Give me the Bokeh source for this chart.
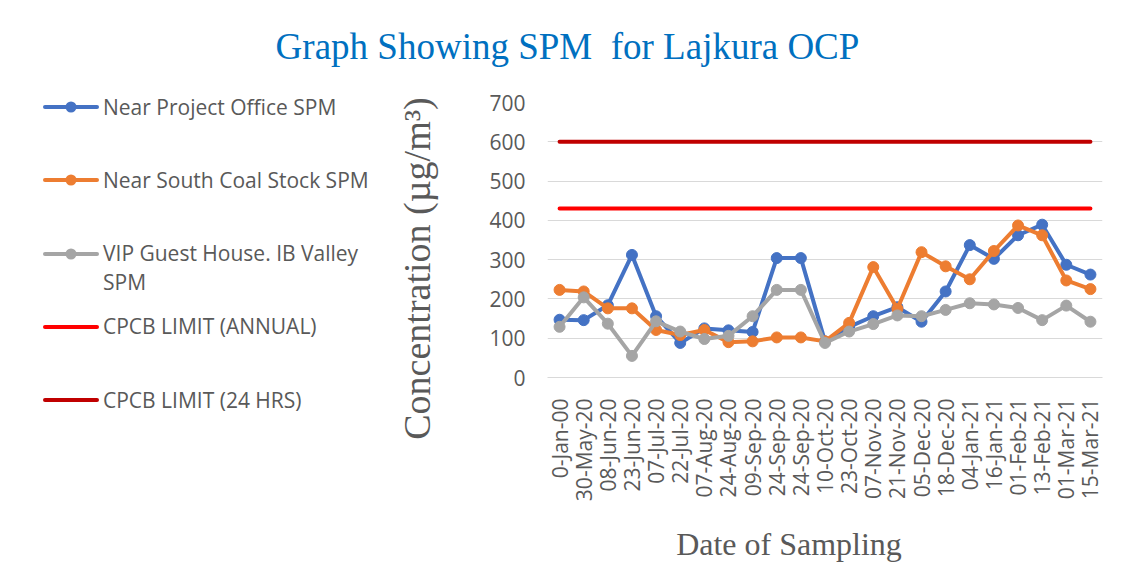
import math
from bokeh.plotting import figure
from bokeh.layouts import column, row
from bokeh.models import FixedTicker, Range1d, Label, Div
from bokeh.embed import file_html
from bokeh.resources import INLINE

# ---- data ----
dates = ["0-Jan-00", "30-May-20", "08-Jun-20", "23-Jun-20", "07-Jul-20", "22-Jul-20",
         "07-Aug-20", "24-Aug-20", "09-Sep-20", "24-Sep-20", "24-Sep-20", "10-Oct-20",
         "23-Oct-20", "07-Nov-20", "21-Nov-20", "05-Dec-20", "18-Dec-20", "04-Jan-21",
         "16-Jan-21", "01-Feb-21", "13-Feb-21", "01-Mar-21", "15-Mar-21"]
project_office = [147, 146, 184, 312, 156, 88, 125, 120, 116, 304, 304, 92, 129, 156, 179,
                  142, 219, 337, 302, 362, 389, 287, 262]
south_coal = [223, 219, 176, 176, 121, 108, 121, 90, 92, 102, 102, 92, 139, 281, 175,
              319, 283, 250, 322, 387, 362, 247, 225]
vip_guest = [129, 204, 137, 55, 143, 117, 98, 106, 156, 223, 223, 88, 117, 136, 158,
             156, 172, 189, 186, 177, 146, 183, 142]
limit_annual = 430
limit_24h = 600
y_ticks = [0, 100, 200, 300, 400, 500, 600, 700]
series_names = ["Near Project Office SPM", "Near South Coal Stock SPM",
                "VIP Guest House. IB Valley\nSPM"]
limit_names = ["CPCB LIMIT (ANNUAL)", "CPCB LIMIT (24 HRS)"]
title_text = "Graph Showing SPM \u00a0for Lajkura OCP"

x = list(range(len(dates)))

TXT = "#595959"
FONT = "Open Sans"
SERIF = "Liberation Serif"
NB = "\u00a0"
series_colors = ["#4472C4", "#ED7D31", "#A5A5A5"]
limit_colors = ["#FF0000", "#C00000"]

TOTAL_W = 1109
TITLE_H = 80
BODY_H = 485
LEG_W = 380

# ---- title strip ----
pt = figure(width=TOTAL_W, height=TITLE_H, output_backend="svg", toolbar_location=None,
            x_axis_type=None, y_axis_type=None, min_border=0,
            x_range=Range1d(0, 1), y_range=Range1d(0, 1))
pt.outline_line_color = None
pt.xgrid.visible = False
pt.ygrid.visible = False
pt.add_layout(Label(x=567, y=34, x_units="screen", y_units="screen", text=title_text,
                    text_align="center", text_baseline="alphabetic",
                    text_font=SERIF, text_font_size="37px", text_color="#0070C0"))

# ---- main chart ----
p = figure(width=TOTAL_W - LEG_W, height=BODY_H, output_backend="svg", toolbar_location=None,
           x_range=Range1d(-0.5, len(dates) - 0.5), y_range=Range1d(0, 700),
           min_border_left=167, min_border_right=7, min_border_top=22,
           min_border_bottom=183)
p.outline_line_color = None
p.xgrid.visible = False
p.ygrid.grid_line_color = "#D9D9D9"
p.ygrid.grid_line_width = 1

p.yaxis.ticker = FixedTicker(ticks=y_ticks)
p.yaxis.axis_line_color = None
p.yaxis.major_tick_line_color = None
p.yaxis.minor_tick_line_color = None
p.yaxis.major_label_text_font = FONT
p.yaxis.major_label_text_font_size = "21px"
p.yaxis.major_label_text_color = TXT
p.yaxis.major_label_standoff = 16
p.yaxis.axis_label = "Concentration (µg/m³)" + NB * 6
p.yaxis.axis_label_text_font = SERIF
p.yaxis.axis_label_text_font_size = "38px"
p.yaxis.axis_label_text_font_style = "normal"
p.yaxis.axis_label_text_color = TXT
p.yaxis.axis_label_standoff = 48

p.xaxis.ticker = FixedTicker(ticks=x)
p.xaxis.major_label_overrides = {i: d for i, d in zip(x, dates)}
p.xaxis.major_label_orientation = math.pi / 2
p.xaxis.axis_line_color = "#D9D9D9"
p.xaxis.major_tick_line_color = None
p.xaxis.minor_tick_line_color = None
p.xaxis.major_label_text_font = FONT
p.xaxis.major_label_text_font_size = "21px"
p.xaxis.major_label_text_color = TXT
p.xaxis.major_label_standoff = 15
p.xaxis.axis_label = "Date of Sampling" + NB * 9
p.xaxis.axis_label_text_font = SERIF
p.xaxis.axis_label_text_font_size = "32px"
p.xaxis.axis_label_text_font_style = "normal"
p.xaxis.axis_label_text_color = TXT
p.xaxis.axis_label_standoff = 22

for vals, col in zip([project_office, south_coal, vip_guest], series_colors):
    p.line(x, vals, line_color=col, line_width=4, line_join="round")
    p.scatter(x, vals, size=11, marker="circle", fill_color=col, line_color=col)
for lim, col in zip([limit_annual, limit_24h], limit_colors):
    p.line(x, [lim] * len(x), line_color=col, line_width=4, line_cap="round")

# ---- legend panel (left), laid out as HTML ----
FIRST_Y = 27      # centre of first legend row, relative to this panel
PITCH = 73.25     # distance between legend rows
GLYPH_X, GLYPH_W, TEXT_X, LINE_H = 43, 56, 103, 29

parts = []
entries = ([(n, c, True) for n, c in zip(series_names, series_colors)] +
           [(n, c, False) for n, c in zip(limit_names, limit_colors)])
for i, (name, col, marker) in enumerate(entries):
    cy = FIRST_Y + i * PITCH
    dot = (f'<circle cx="{GLYPH_W / 2}" cy="8" r="5.5" fill="{col}"/>' if marker else "")
    svg = (f'<svg width="{GLYPH_W}" height="16" style="position:absolute;left:{GLYPH_X}px;'
           f'top:{cy - 8:.1f}px;overflow:visible">'
           f'<line x1="2" y1="8" x2="{GLYPH_W - 2}" y2="8" stroke="{col}" stroke-width="4" '
           f'stroke-linecap="round"/>{dot}</svg>')
    label = name.replace("\n", "<br>")
    txt = (f'<div style="position:absolute;left:{TEXT_X}px;top:{cy - LINE_H / 2:.1f}px;'
           f'line-height:{LINE_H}px;white-space:nowrap">{label}</div>')
    parts.append(svg + txt)

legend_html = (f'<div style="position:relative;width:{LEG_W}px;height:{BODY_H}px;'
               f"font-family:'{FONT}';font-size:21px;color:{TXT};\">" + "".join(parts) + "</div>")
legend_div = Div(text=legend_html, width=LEG_W, height=BODY_H, margin=0)

layout = column(pt, row(legend_div, p, spacing=0), spacing=0)
open("out.html", "w").write(file_html(layout, INLINE))
